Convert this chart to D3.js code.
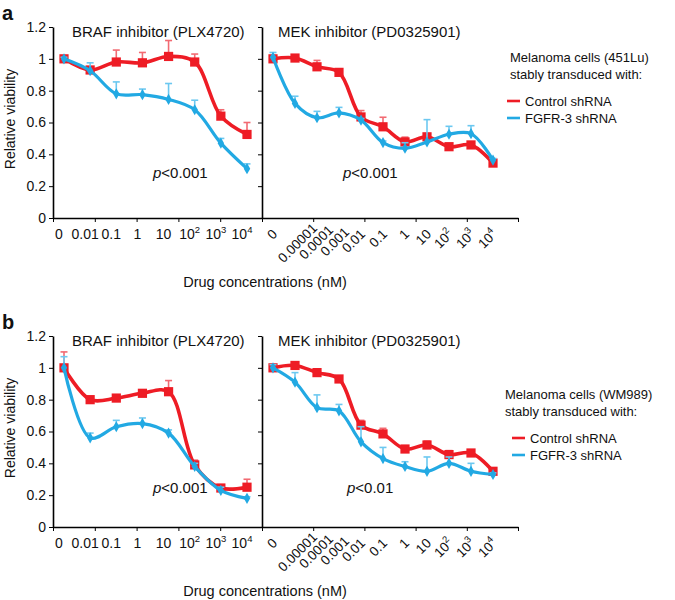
<!DOCTYPE html>
<html>
<head>
<meta charset="utf-8">
<style>
  body { margin: 0; background: #fff; }
  text { font-family: "Liberation Sans", Arial, sans-serif; fill: #111; }
</style>
</head>
<body>
<svg></svg>
<script src="https://d3js.org/d3.v7.min.js"></script>
<script>
// concentration labels (nM); "^" marks a superscript
const brafConc = ["0", "0.01", "0.1", "1", "10", "10^2", "10^3", "10^4"];
const mekConc = ["0", "0.00001", "0.0001", "0.001", "0.01", "0.1", "1", "10", "10^2", "10^3", "10^4"];
const yTicks = [0, 0.2, 0.4, 0.6, 0.8, 1, 1.2];

// panel a: 451Lu
const brafCtrlA = [1.00, 0.93, 0.98, 0.975, 1.015, 0.98, 0.64, 0.525];
const brafCtrlAErr = [0.01, 0.01, 0.075, 0.065, 0.10, 0.05, 0.04, 0.075];
const brafShA = [1.00, 0.925, 0.78, 0.775, 0.745, 0.68, 0.47, 0.31];
const brafShAErr = [0.01, 0.05, 0.075, 0.035, 0.10, 0.06, 0.03, 0.03];
const mekCtrlA = [1.00, 1.005, 0.95, 0.915, 0.635, 0.573, 0.478, 0.51, 0.448, 0.459, 0.345];
const mekCtrlAErr = [0.01, 0.01, 0.04, 0.01, 0.04, 0.06, 0.03, 0.02, 0.01, 0.01, 0.01];
const mekShA = [1.01, 0.72, 0.63, 0.66, 0.615, 0.474, 0.438, 0.478, 0.526, 0.53, 0.364];
const mekShAErr = [0.03, 0.045, 0.04, 0.035, 0.01, 0.01, 0.035, 0.14, 0.05, 0.05, 0.01];

// panel b: WM989
const brafCtrlB = [1.00, 0.80, 0.81, 0.84, 0.85, 0.39, 0.245, 0.25];
const brafCtrlBErr = [0.10, 0.02, 0.015, 0.015, 0.07, 0.03, 0.015, 0.05];
const brafShB = [1.00, 0.56, 0.63, 0.65, 0.59, 0.38, 0.23, 0.18];
const brafShBErr = [0.07, 0.03, 0.04, 0.035, 0.02, 0.02, 0.02, 0.01];
const mekCtrlB = [1.00, 1.015, 0.97, 0.93, 0.64, 0.585, 0.49, 0.515, 0.455, 0.465, 0.35];
const mekCtrlBErr = [0.02, 0.015, 0.02, 0.01, 0.03, 0.035, 0.02, 0.025, 0.025, 0.015, 0.02];
const mekShB = [1.00, 0.91, 0.75, 0.73, 0.535, 0.43, 0.38, 0.35, 0.40, 0.35, 0.33];
const mekShBErr = [0.02, 0.06, 0.08, 0.04, 0.095, 0.07, 0.03, 0.09, 0.04, 0.05, 0.01];

const RED = "#ee1c25", RED_ERR = "#f26a72";
const BLUE = "#22a9e3", BLUE_ERR = "#6cc8f0";

const svg = d3.select("svg").attr("width", 675).attr("height", 600);

const leftX0 = 53, midX = 262, rightX1 = 518;

const rows = [
  {letter: "a", base: 218, cells: "Melanoma cells (451Lu)", legX: 510, legY: 62, legLineX: 507,
   braf: [brafCtrlA, brafCtrlAErr, brafShA, brafShAErr], mek: [mekCtrlA, mekCtrlAErr, mekShA, mekShAErr],
   pBraf: "<0.001", pMek: "<0.001", pDy: 40, pMekX: 81},
  {letter: "b", base: 527, cells: "Melanoma cells (WM989)", legX: 505, legY: 399, legLineX: 512,
   braf: [brafCtrlB, brafCtrlBErr, brafShB, brafShBErr], mek: [mekCtrlB, mekCtrlBErr, mekShB, mekShBErr],
   pBraf: "<0.001", pMek: "<0.01", pDy: 34, pMekX: 85}
];

function addLabel(sel, s, supSize) {
  const parts = s.split("^");
  sel.append("tspan").text(parts[0]);
  if (parts.length > 1) {
    sel.append("tspan").attr("dy", -6).attr("font-size", supSize).text(parts[1]);
  }
}

function drawSeries(g, x, y, vals, errs, color, errColor, shape) {
  const eg = g.append("g").attr("stroke", errColor).attr("stroke-width", 1.6);
  vals.forEach((v, i) => {
    const top = y(v + errs[i]);
    eg.append("line").attr("x1", x(i)).attr("x2", x(i)).attr("y1", y(v)).attr("y2", top);
    eg.append("line").attr("x1", x(i) - 3.5).attr("x2", x(i) + 3.5).attr("y1", top).attr("y2", top);
  });
  const line = d3.line().x((d, i) => x(i)).y(d => y(d)).curve(d3.curveCatmullRom.alpha(0.5));
  g.append("path").datum(vals).attr("d", line)
    .attr("fill", "none").attr("stroke", color)
    .attr("stroke-width", shape === "square" ? 3.6 : 3.2)
    .attr("stroke-linejoin", "round");
  const sym = shape === "square" ? d3.symbol(d3.symbolSquare).size(85) : d3.symbol(d3.symbolDiamond).size(36);
  g.selectAll(null).data(vals).enter().append("path")
    .attr("d", sym)
    .attr("transform", (d, i) => `translate(${x(i)},${y(d)})`)
    .attr("fill", color);
}

function drawPanel(row, x0, x1, conc, data, title, titleDx, pText, pDx, isLeft) {
  const g = svg.append("g");
  const y = d3.scaleLinear().domain([0, 1.2]).range([row.base, row.base - 191]);
  const n = conc.length;
  const x = isLeft
    ? d3.scaleLinear().domain([0, n - 1]).range([x0 + 11, x1 - 15])
    : d3.scaleLinear().domain([0, n - 1]).range([x0 + 11, x1 - 25]);

  // y axis
  const yAxis = d3.axisLeft(y).tickValues(yTicks).tickSize(4).tickSizeOuter(0).tickPadding(3)
    .tickFormat(isLeft ? (d => String(+d.toFixed(1))) : "");
  const ya = g.append("g").attr("transform", `translate(${x0},0)`).call(yAxis);
  ya.selectAll("text").attr("font-size", 14).attr("font-family", "Liberation Sans, Arial, sans-serif");
  ya.select(".domain").attr("stroke-width", 1.6);

  // x axis: five even tick intervals
  const tx = d3.scaleLinear().domain([0, 5]).range([x0, x1]);
  const xa = g.append("g").attr("transform", `translate(0,${row.base})`)
    .call(d3.axisBottom(tx).tickValues([0, 1, 2, 3, 4, 5]).tickSize(4).tickSizeOuter(0).tickFormat(""));
  xa.select(".domain").attr("stroke-width", 1.6);

  // category labels
  conc.forEach((c, i) => {
    let t;
    if (isLeft) {
      t = g.append("text").attr("x", x(i) - 5).attr("y", row.base + 21)
        .attr("text-anchor", "middle").attr("font-size", 14);
    } else {
      // long labels are pushed right so they stagger like the original
      const extra = Math.max(0, c.length - 4);
      const ax = x(i) + 5 + extra * 6, ay = row.base + 17 - extra * 2;
      t = g.append("text").attr("x", ax).attr("y", ay)
        .attr("transform", `rotate(-45,${ax},${ay})`)
        .attr("text-anchor", "end").attr("font-size", 13.5);
    }
    addLabel(t, c, 9.5);
  });

  // title
  g.append("text").attr("x", x0 + titleDx).attr("y", row.base - 181)
    .attr("font-size", 15).text(title);

  // series
  drawSeries(g, x, y, data[0], data[1], RED, RED_ERR, "square");
  drawSeries(g, x, y, data[2], data[3], BLUE, BLUE_ERR, "diamond");

  // p-value
  const p = g.append("text").attr("x", x0 + pDx).attr("y", row.base - row.pDy).attr("font-size", 15);
  p.append("tspan").attr("font-style", "italic").text("p");
  p.append("tspan").text(pText);
}

rows.forEach(row => {
  drawPanel(row, leftX0, midX, brafConc, row.braf, "BRAF inhibitor (PLX4720)", 19, row.pBraf, 100, true);
  drawPanel(row, midX, rightX1, mekConc, row.mek, "MEK inhibitor (PD0325901)", 16, row.pMek, row.pMekX, false);

  svg.append("text").attr("x", 2).attr("y", row.base - 198)
    .attr("font-size", 20).attr("font-weight", "bold").text(row.letter);

  svg.append("text").attr("transform", `translate(15,${row.base - 99}) rotate(-90)`)
    .attr("text-anchor", "middle").attr("font-size", 14).text("Relative viability");

  svg.append("text").attr("x", 265).attr("y", row.base + 69)
    .attr("text-anchor", "middle").attr("font-size", 14.5).text("Drug concentrations (nM)");

  // legend
  const lg = svg.append("g");
  lg.append("text").attr("x", row.legX).attr("y", row.legY).attr("font-size", 13).text(row.cells);
  lg.append("text").attr("x", row.legX).attr("y", row.legY + 17).attr("font-size", 13).text("stably transduced with:");
  [["Control shRNA", RED], ["FGFR-3 shRNA", BLUE]].forEach((it, k) => {
    const ly = row.legY + 39 + k * 17;
    lg.append("line").attr("x1", row.legLineX).attr("x2", row.legLineX + 13)
      .attr("y1", ly).attr("y2", ly).attr("stroke", it[1]).attr("stroke-width", 2.6);
    lg.append("text").attr("x", row.legLineX + 18).attr("y", ly + 5).attr("font-size", 13).text(it[0]);
  });
});
</script>
</body>
</html>
